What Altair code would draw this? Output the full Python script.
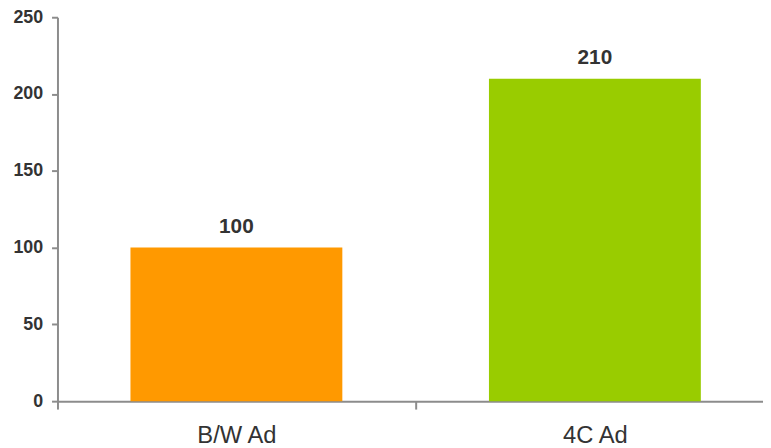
import altair as alt
import pandas as pd

categories = ["B/W Ad", "4C Ad"]
values = [100, 210]
bar_colors = ["#FF9900", "#99CC00"]
y_ticks = [0, 50, 100, 150, 200, 250]

df = pd.DataFrame({"cat": categories, "val": values})

FONT = "Liberation Sans"
AXIS_GRAY = "#8c8c8c"
TEXT = "#333333"

x_enc = alt.X(
    "cat:N",
    sort=categories,
    scale=alt.Scale(paddingInner=0.409, paddingOuter=0.1885, align=0.54),
    axis=alt.Axis(
        title=None,
        labelAngle=0,
        grid=False,
        tickOffset=-181.2,
        labelOffset=181.2,
        tickSize=8,
        tickWidth=2,
        tickColor=AXIS_GRAY,
        domainColor=AXIS_GRAY,
        domainWidth=2,
        labelFont=FONT,
        labelFontSize=24,
        labelFontWeight="normal",
        labelColor=TEXT,
        labelPadding=15,
        labelBaseline="top",
    ),
)

y_enc = alt.Y(
    "val:Q",
    scale=alt.Scale(domain=[0, 250], nice=False),
    axis=alt.Axis(
        title=None,
        values=y_ticks,
        grid=False,
        tickSize=6,
        tickWidth=2,
        tickColor=AXIS_GRAY,
        domainColor=AXIS_GRAY,
        domainWidth=2,
        labelFont=FONT,
        labelFontSize=18,
        labelFontWeight="bold",
        labelColor=TEXT,
        labelPadding=9,
    ),
)

base = alt.Chart(df).encode(x=x_enc, y=y_enc)

bars = base.mark_bar().encode(
    color=alt.Color("cat:N", sort=categories,
                    scale=alt.Scale(domain=categories, range=bar_colors),
                    legend=None)
)

labels = base.mark_text(
    dy=-15, baseline="alphabetic", align="center",
    font=FONT, fontSize=21, fontWeight="bold", color=TEXT
).encode(text=alt.Text("val:Q"))

chart = (
    alt.layer(bars, labels)
    .properties(
        width=713,
        height=388,
        background="white",
        autosize=alt.AutoSizeParams(type="none"),
        padding={"left": 50, "top": 7, "right": 0, "bottom": 45},
    )
    .configure_view(stroke="transparent", strokeWidth=0)
    .configure_axis(grid=False)
)

chart.save("out.html", embed_options={"renderer": "svg", "actions": False})
